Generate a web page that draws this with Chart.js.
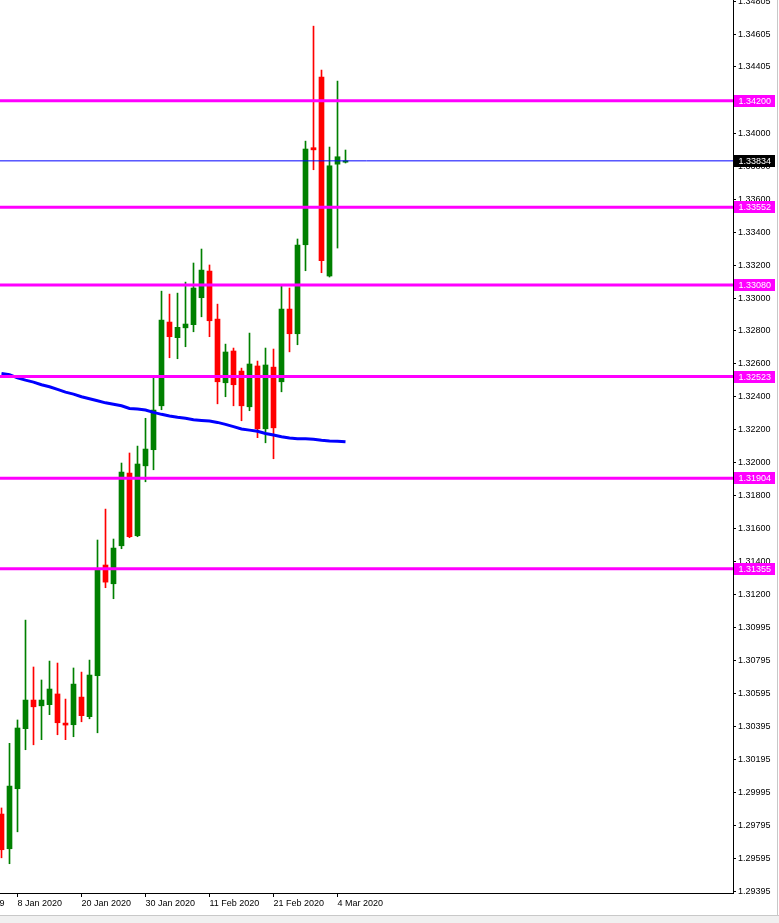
<!DOCTYPE html>
<html>
<head>
<meta charset="utf-8">
<script src="https://cdn.jsdelivr.net/npm/chart.js@4.4.1/dist/chart.umd.min.js"></script>
<style>
html,body{margin:0;padding:0;background:#fff;overflow:hidden}
canvas{display:block}
</style>
</head>
<body>
<canvas id="c" width="779" height="923"></canvas>
<script>
// ---- data (USDCAD daily) ----
const opens  = [1.29863,1.29652,1.30017,1.30382,1.30556,1.30521,1.30528,1.30593,1.30416,1.30406,1.30574,1.30455,1.30704,1.31377,1.31263,1.31494,1.31936,1.31555,1.31980,1.32078,1.32345,1.32854,1.32759,1.32819,1.32838,1.33002,1.33164,1.32872,1.32485,1.32678,1.32556,1.32339,1.32587,1.32205,1.32580,1.32491,1.32933,1.32783,1.33324,1.33914,1.34343,1.33134,1.33814,1.33826];
const highs  = [1.29900,1.30293,1.30435,1.31042,1.30757,1.30678,1.30793,1.30781,1.30562,1.30751,1.30726,1.30799,1.31529,1.31717,1.31535,1.31997,1.32058,1.32100,1.32269,1.32515,1.33042,1.33024,1.33030,1.33097,1.33213,1.33298,1.33201,1.32963,1.32720,1.32696,1.32574,1.32787,1.32617,1.32696,1.32690,1.33073,1.33061,1.33359,1.33954,1.34653,1.34386,1.33918,1.34319,1.33900];
const lows   = [1.29597,1.29561,1.29755,1.30254,1.30284,1.30315,1.30467,1.30345,1.30315,1.30333,1.30424,1.30442,1.30357,1.31239,1.31172,1.31476,1.31543,1.31549,1.31883,1.31956,1.32321,1.32637,1.32631,1.32704,1.32795,1.32886,1.32765,1.32357,1.32400,1.32345,1.32254,1.32315,1.32151,1.32120,1.32023,1.32430,1.32673,1.32716,1.33166,1.33780,1.33154,1.33128,1.33304,1.33821];
const closes = [1.29646,1.30033,1.30386,1.30556,1.30515,1.30556,1.30623,1.30418,1.30404,1.30653,1.30461,1.30708,1.31346,1.31273,1.31480,1.31942,1.31549,1.31991,1.32082,1.32319,1.32866,1.32765,1.32822,1.32842,1.33061,1.33170,1.32862,1.32491,1.32672,1.32473,1.32345,1.32599,1.32205,1.32593,1.32211,1.32933,1.32783,1.33322,1.33906,1.33901,1.33227,1.33804,1.33859,1.33834];
const movingAverage = [1.32542,1.32534,1.32515,1.32501,1.32489,1.32473,1.32461,1.32445,1.32428,1.32416,1.32400,1.32388,1.32376,1.32363,1.32354,1.32345,1.32329,1.32325,1.32319,1.32305,1.32293,1.32283,1.32275,1.32269,1.32260,1.32256,1.32252,1.32244,1.32232,1.32218,1.32204,1.32197,1.32190,1.32177,1.32167,1.32157,1.32149,1.32145,1.32145,1.32141,1.32135,1.32131,1.32129,1.32126];
const levels = [1.34200,1.33552,1.33080,1.32523,1.31904,1.31355];
const currentPrice = 1.33834;
const yTickValues = [1.29395,1.29595,1.29795,1.29995,1.30195,1.30395,1.30595,1.30795,1.30995,1.31200,1.31400,1.31600,1.31800,1.32000,1.32200,1.32400,1.32600,1.32800,1.33000,1.33200,1.33400,1.33600,1.33800,1.34000,1.34200,1.34405,1.34605,1.34805];
const xTickPositions = [-6,2,10,18,26,34,42];
const xTickLabels = ["26 Dec 2019","8 Jan 2020","20 Jan 2020","30 Jan 2020","11 Feb 2020","21 Feb 2020","4 Mar 2020"];

const X_MIN = -0.1875, X_MAX = 91.4375;
const Y_MIN = 1.29383, Y_MAX = 1.34812;

const GREEN = '#008000', RED = '#FF0000', MAGENTA = '#FF00FF', BLUE = '#0000FF';
const candleColors = opens.map((o,i) => closes[i] >= o ? GREEN : RED);

Chart.defaults.font.family = '"Liberation Sans", Arial, sans-serif';
Chart.defaults.font.size = 9;
Chart.defaults.color = '#000';

const datasets = [];
// wicks
datasets.push({
  type: 'bar', label: 'wick', order: 3, grouped: false,
  data: lows.map((l,i) => ({x: i, y: [l, highs[i]]})),
  backgroundColor: candleColors, borderWidth: 0, barThickness: 1
});
// bodies
datasets.push({
  type: 'bar', label: 'body', order: 2, grouped: false,
  data: opens.map((o,i) => ({x: i, y: [o, closes[i]]})),
  backgroundColor: candleColors, borderWidth: 0, barThickness: 5, minBarLength: 1
});
// moving average
datasets.push({
  type: 'line', label: 'MA', order: 1,
  data: movingAverage.map((v,i) => ({x: i, y: v})),
  borderColor: BLUE, borderWidth: 3, pointRadius: 0, tension: 0, fill: false
});
// level lines
levels.forEach(lv => datasets.push({
  type: 'line', label: 'level', order: 0,
  data: [{x: X_MIN, y: lv}, {x: X_MAX, y: lv}],
  borderColor: MAGENTA, borderWidth: 3, pointRadius: 0, fill: false
}));
// current price line
datasets.push({
  type: 'line', label: 'price', order: 0,
  data: [{x: X_MIN, y: currentPrice}, {x: X_MAX, y: currentPrice}],
  borderColor: BLUE, borderWidth: 1, pointRadius: 0, fill: false
});

const labelBoxes = {
  id: 'labelBoxes',
  afterDraw(chart) {
    const ctx = chart.ctx;
    const ys = chart.scales.y;
    ctx.save();
    ctx.font = '9px "Liberation Sans", Arial, sans-serif';
    ctx.textBaseline = 'middle';
    ctx.textAlign = 'left';
    const box = (v, bg) => {
      const y = Math.round(ys.getPixelForValue(v));
      ctx.fillStyle = bg;
      ctx.fillRect(734, y - 6, 41, 12);
      ctx.fillStyle = '#fff';
      ctx.fillText(v.toFixed(5), 738.5, y + 0.5);
    };
    levels.forEach(lv => box(lv, MAGENTA));
    box(currentPrice, '#000');
    // window frame strip at the bottom / right
    ctx.fillStyle = '#f0f0f0';
    ctx.fillRect(0, 916, 779, 7);
    ctx.fillStyle = '#c8c8c8';
    ctx.fillRect(0, 915, 779, 1);
    ctx.fillRect(777, 0, 1, 915);
    ctx.restore();
  }
};

new Chart(document.getElementById('c'), {
  type: 'bar',
  data: { datasets },
  options: {
    responsive: false,
    animation: false,
    devicePixelRatio: 1,
    layout: { padding: 0 },
    plugins: { legend: { display: false }, tooltip: { enabled: false } },
    scales: {
      x: {
        type: 'linear', position: 'bottom', offset: false,
        min: X_MIN, max: X_MAX, bounds: 'data',
        grid: { display: true, drawOnChartArea: false, drawTicks: true, tickLength: 4, color: '#000', offset: false },
        border: { display: true, color: '#000', width: 1 },
        ticks: {
          autoSkip: false, maxRotation: 0, minRotation: 0, align: 'start', padding: 1,
          callback: (v) => { const k = xTickPositions.indexOf(v); return k >= 0 ? xTickLabels[k] : ''; }
        },
        afterBuildTicks: s => { s.ticks = xTickPositions.map(v => ({value: v})); },
        afterFit: s => { s.height = 30; s.paddingLeft = 0; s.paddingRight = 0; }
      },
      y: {
        type: 'linear', position: 'right', beginAtZero: false,
        min: Y_MIN, max: Y_MAX, bounds: 'data',
        grid: { display: true, drawOnChartArea: false, drawTicks: true, tickLength: 3, color: '#000' },
        border: { display: true, color: '#000', width: 1 },
        ticks: {
          autoSkip: false, padding: 2,
          callback: (v) => v.toFixed(5)
        },
        afterBuildTicks: s => { s.ticks = yTickValues.map(v => ({value: v})); },
        afterFit: s => { s.width = 46; s.paddingTop = 0; s.paddingBottom = 0; }
      }
    }
  },
  plugins: [labelBoxes]
});
</script>
</body>
</html>
